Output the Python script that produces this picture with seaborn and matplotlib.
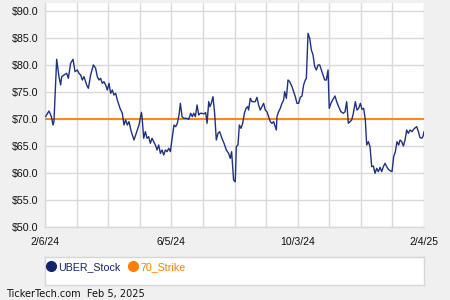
import matplotlib
matplotlib.use("Agg")
import matplotlib.pyplot as plt
import seaborn as sns
import pandas as pd
import numpy as np
from matplotlib.ticker import FixedLocator, NullFormatter, FixedFormatter
from matplotlib.lines import Line2D

# ---- data (trading-day index, price) ----
days = [0.4, 2.6, 4.2, 5.3, 5.9, 7.7, 9.2, 10.3, 11.0, 12.5, 14.3, 15.4, 16.9, 18.5, 19.8,
        21.3, 22.4, 23.5, 24.6, 25.7, 27.5, 28.6, 30.1, 31.9, 33.4, 34.5, 35.6, 36.7, 37.8,
        38.9, 40.0, 41.1, 42.2, 43.3, 44.4, 45.5, 46.6, 47.7, 49.5, 51.0, 52.1, 53.2, 54.3,
        55.4, 56.9, 58.7, 60.5, 62.0, 63.6, 64.0, 65.1, 66.2, 67.3, 68.4, 69.5, 70.6, 71.7,
        72.8, 73.9, 75.0, 76.1, 77.2, 78.3, 79.4, 80.5, 81.6, 82.7, 84.0, 85.1, 86.2, 87.3,
        88.4, 89.3, 90.4, 91.5, 93.2, 94.8, 96.1, 97.2, 98.1, 99.2, 100.3, 101.4, 102.5,
        103.6, 104.7, 106.0, 106.9, 108.0, 108.8, 109.7, 110.8, 111.9, 113.0, 114.1, 115.2,
        116.7, 118.1, 119.6, 121.1, 122.2, 123.1, 123.7, 124.4, 125.5, 126.2, 127.3, 128.2,
        129.3, 130.4, 131.5, 132.6, 133.7, 134.3, 135.4, 136.5, 137.6, 138.7, 139.8, 140.9,
        142.0, 143.1, 144.2, 145.3, 146.4, 147.5, 148.6, 149.7, 150.8, 151.5, 152.6, 153.0,
        154.1, 155.2, 156.3, 157.4, 158.1, 159.2, 160.3, 161.4, 162.9, 164.0, 165.1, 166.2,
        167.3, 168.4, 169.5, 170.6, 171.7, 172.4, 173.5, 174.6, 175.7, 176.8, 177.9, 179.0,
        180.1, 181.2, 182.3, 183.4, 184.5, 185.6, 186.7, 187.5, 188.6, 189.7, 191.3, 192.4,
        193.7, 195.2, 196.8, 197.9, 199.0, 200.1, 201.2, 202.3, 203.4, 204.7, 205.8, 206.9,
        208.0, 209.1, 210.2, 211.3, 212.2, 213.3, 214.4, 215.5, 216.6, 217.7, 218.8, 219.9,
        221.0, 222.1, 223.2, 224.3, 225.4, 226.5, 227.6, 228.9, 230.0, 231.1, 232.2, 233.3,
        234.2, 235.3, 236.4, 237.5, 238.6, 239.7, 240.8, 242.1, 243.2, 244.3, 245.2, 246.3,
        247.3, 248.4, 249.3, 250.0]
uber_stock = [70.39, 71.44, 70.39, 68.84, 69.46, 81.03, 77.81, 76.27, 77.81, 78.12, 78.43,
              77.50, 80.29, 81.03, 78.74, 79.05, 78.43, 78.12, 77.19, 77.81, 76.27, 75.65,
              78.12, 79.98, 79.36, 77.81, 77.19, 77.50, 76.57, 76.88, 76.27, 75.34, 76.57,
              74.72, 75.34, 74.41, 74.72, 73.48, 71.93, 71.01, 68.84, 69.77, 68.84, 69.46,
              67.60, 66.06, 67.60, 68.84, 71.19, 70.39, 66.37, 67.60, 66.37, 66.67, 65.44,
              66.37, 65.75, 65.13, 64.20, 65.13, 63.58, 64.20, 63.27, 64.20, 63.89, 64.51,
              63.89, 66.67, 68.84, 68.53, 69.15, 70.70, 72.86, 70.39, 70.08, 70.08, 69.89,
              71.01, 70.39, 71.01, 70.39, 72.55, 70.70, 71.01, 71.01, 70.88, 71.13, 69.15,
              73.17, 72.24, 72.86, 74.10, 71.01, 66.06, 67.29, 67.60, 66.37, 65.44, 64.20,
              63.58, 62.65, 63.89, 61.42, 58.63, 58.32, 64.82, 65.13, 68.84, 68.22, 69.15,
              71.01, 71.93, 72.24, 71.62, 73.79, 73.17, 73.17, 73.17, 73.98, 72.55, 71.62,
              72.24, 72.86, 71.62, 71.31, 70.39, 69.46, 69.15, 69.46, 68.84, 67.91, 70.39,
              71.31, 71.93, 72.86, 73.48, 75.03, 73.79, 77.19, 76.88, 75.96, 75.03, 74.10,
              72.86, 72.86, 73.98, 74.22, 76.27, 77.19, 77.50, 85.86, 84.93, 82.76, 81.83,
              79.67, 79.05, 79.98, 79.98, 79.05, 78.12, 77.19, 77.19, 79.05, 71.93, 72.86,
              73.48, 74.22, 73.17, 72.24, 71.31, 71.01, 71.31, 73.17, 69.15, 69.46, 69.77,
              71.01, 73.17, 71.62, 71.93, 72.86, 71.75, 71.93, 69.77, 65.13, 65.75, 64.82,
              61.11, 61.23, 59.87, 60.80, 60.18, 60.98, 60.18, 61.11, 61.73, 61.11, 60.61,
              60.36, 60.18, 62.96, 63.89, 65.75, 65.13, 66.06, 65.75, 64.94, 66.06, 67.91,
              67.29, 67.91, 67.60, 68.04, 68.35, 68.53, 67.60, 66.55, 66.37, 66.67, 67.60]
strike_days = [0, 250]
strike_70 = [70, 70]
x_tick_days = [0, 83.33, 166.67, 250]
x_tick_labels = ["2/6/24", "6/5/24", "10/3/24", "2/4/25"]
y_ticks = [50, 55, 60, 65, 70, 75, 80, 85, 90]
series_names = ["UBER_Stock", "70_Strike"]

NAVY = "#1f3281"
NAVY_DOT = "#14246b"
ORANGE = "#ff7f00"
BG = "#f0f0f0"
GRID = "#d9d9d9"

sns.set_style("white")
plt.rcParams["font.family"] = ["Liberation Sans", "DejaVu Sans"]

fig = plt.figure(figsize=(4.5, 3.0), dpi=100, facecolor=BG)
ax = fig.add_axes([45 / 450, 1 - 226.5 / 300, 379 / 450, 223.5 / 300])
ax.set_facecolor("white")

stock_df = pd.DataFrame({"day": days, "price": uber_stock})
strike_df = pd.DataFrame({"day": strike_days, "price": strike_70})
sns.lineplot(data=strike_df, x="day", y="price", ax=ax, color=ORANGE, linewidth=1.3, zorder=3)
sns.lineplot(data=stock_df, x="day", y="price", ax=ax, color=NAVY, linewidth=1.0, zorder=4)

ax.set_xlim(0, 250)
ax.set_ylim(50, 91.48)

# grid
grid_x = [250 / 12 * k for k in range(13)]
ax.xaxis.set_major_locator(FixedLocator(grid_x))
ax.xaxis.set_major_formatter(FixedFormatter([""] * 13))
ax.xaxis.set_minor_locator(FixedLocator([g + 250 / 24 for g in grid_x[:-1]]))
ax.yaxis.set_major_locator(FixedLocator(y_ticks))
ax.yaxis.set_major_formatter(FixedFormatter([f"${v:.1f}" for v in y_ticks]))
ax.yaxis.set_minor_locator(FixedLocator([v + 2.5 for v in y_ticks[:-1]]))
ax.grid(True, which="major", color=GRID, linewidth=1.0, zorder=0)
ax.tick_params(axis="both", which="major", length=0, labelsize=7.7, colors="#111111")
ax.tick_params(axis="y", which="major", pad=5)
ax.tick_params(axis="both", which="minor", length=3, direction="in", color="#c8c8c8", width=0.8)
for s in ["top", "right"]:
    ax.spines[s].set_visible(False)
for s in ["left", "bottom"]:
    ax.spines[s].set_color(GRID)
    ax.spines[s].set_linewidth(1.0)
ax.set_xlabel("")
ax.set_ylabel("")

# x labels under the axis
for d, lab in zip(x_tick_days, x_tick_labels):
    ax.annotate(lab, xy=(d, 0), xycoords=("data", "axes fraction"),
                xytext=(0, -11), textcoords="offset points",
                ha="center", va="center", fontsize=7.5, color="#111111")

# legend box
leg_ax = fig.add_axes([45 / 450, 1 - 285 / 300, 379 / 450, 28.5 / 300])
leg_ax.set_xticks([]); leg_ax.set_yticks([])
leg_ax.set_facecolor("white")
for s in leg_ax.spines.values():
    s.set_color("#d6d6d6"); s.set_linewidth(1.0)
handles = [Line2D([], [], marker="o", linestyle="", markersize=7, color=NAVY_DOT),
           Line2D([], [], marker="o", linestyle="", markersize=7, color=ORANGE)]
leg = leg_ax.legend(handles, series_names, loc="upper left", ncol=2, frameon=False,
                    fontsize=7.7, handletextpad=0.05, columnspacing=0.6,
                    borderaxespad=0.0, bbox_to_anchor=(-0.012, 0.95), handlelength=1.2)
for t, c in zip(leg.get_texts(), [NAVY_DOT, ORANGE]):
    t.set_color(c)

fig.text(6 / 450, 1 - 294 / 300, "TickerTech.com  Feb 5, 2025", fontsize=7.0,
         color="#111111", ha="left", va="center", family=["DejaVu Sans"])

fig.savefig("out.png", dpi=100, facecolor=BG)
